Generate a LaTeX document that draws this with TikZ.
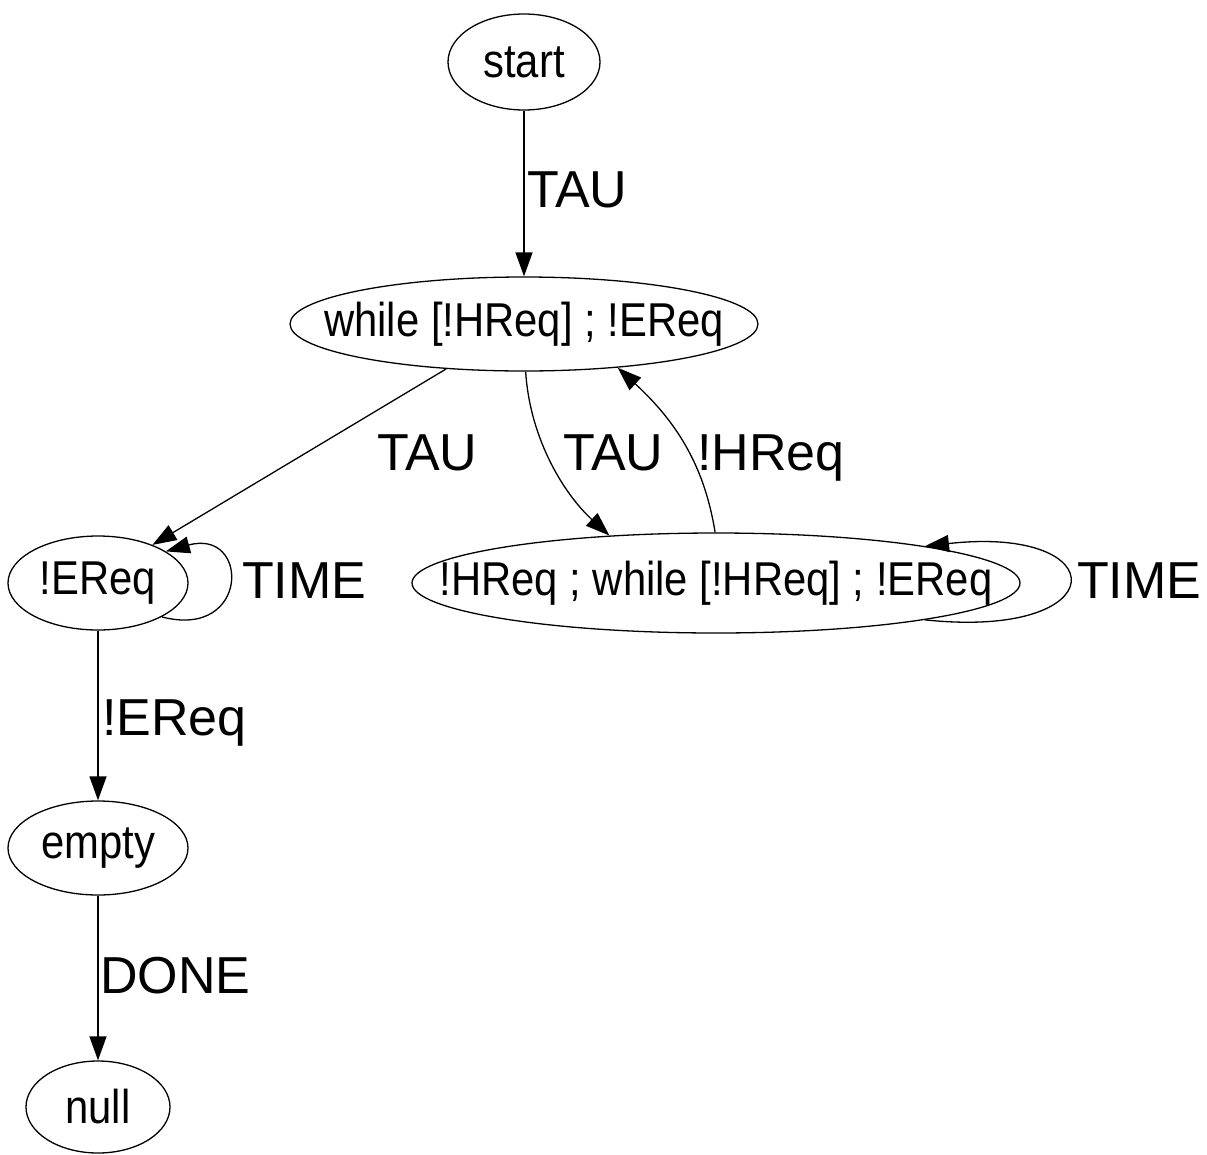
\documentclass[tikz,border=0pt]{standalone}
\usepackage{fontspec}
\setmainfont{Liberation Sans}
\newfontfamily\nodefont{Liberation Sans}[FakeStretch=0.88]
\usetikzlibrary{arrows.meta,shapes.geometric}
\begin{document}
\begin{tikzpicture}[x=1pt,y=-1pt,
  st/.style={ellipse,draw,line width=1.3pt,inner sep=0pt},
  ntext/.style={inner sep=0pt,font=\nodefont\fontsize{47.5}{47.5}\selectfont},
  edge/.style={line width=1.3pt,-{Triangle[length=24pt,width=17pt]}},
  lbl/.style={anchor=base west,inner sep=0pt,font=\fontsize{52}{52}\selectfont}]
\useasboundingbox (0,0) rectangle (1207,1154);
\node[st,minimum width=152pt,minimum height=96pt,label={[ntext]center:start}] (start) at (524,62) {};
\node[st,minimum width=468pt,minimum height=94pt,label={[ntext]center:while [!HReq] ; !EReq}] (w) at (524,324) {};
\node[st,minimum width=180pt,minimum height=94pt,label={[ntext]center:!EReq}] (eq) at (98,583) {};
\node[st,minimum width=608pt,minimum height=100pt,label={[ntext]center:!HReq ; while [!HReq] ; !EReq}] (hq) at (716,583) {};
\node[st,minimum width=180pt,minimum height=94pt,label={[ntext]center:empty}] (em) at (98,848) {};
\node[st,minimum width=144pt,minimum height=92pt,label={[ntext]center:null}] (nl) at (98,1107) {};

\draw[edge] (start) -- (w);
\draw[edge] (w.210) -- (eq.35);
\draw[edge] (w.-88) .. controls (530,440) and (565,495) .. (hq.156);
\draw[edge] (hq.91) .. controls (705,470) and (680,425) .. (w.-25);
\draw[edge] (eq.-28) .. controls (250,640) and (250,528) .. (eq.25);
\draw[edge] (hq.-10) .. controls (1116,640) and (1116,525) .. (hq.10);
\draw[edge] (eq) -- (em);
\draw[edge] (em) -- (nl);

\node[lbl] (l1) at (527,207) {TAU};
\node[lbl] (l2) at (377,470) {TAU};
\node[lbl] (l3) at (563,470) {TAU};
\node[lbl] (l4) at (697,470) {!HReq};
\node[lbl] (l5) at (242,598) {TIME};
\node[lbl] (l6) at (1077,598) {TIME};
\node[lbl] (l7) at (102,735) {!EReq};
\node[lbl] (l8) at (100,993) {DONE};
\end{tikzpicture}
\end{document}
